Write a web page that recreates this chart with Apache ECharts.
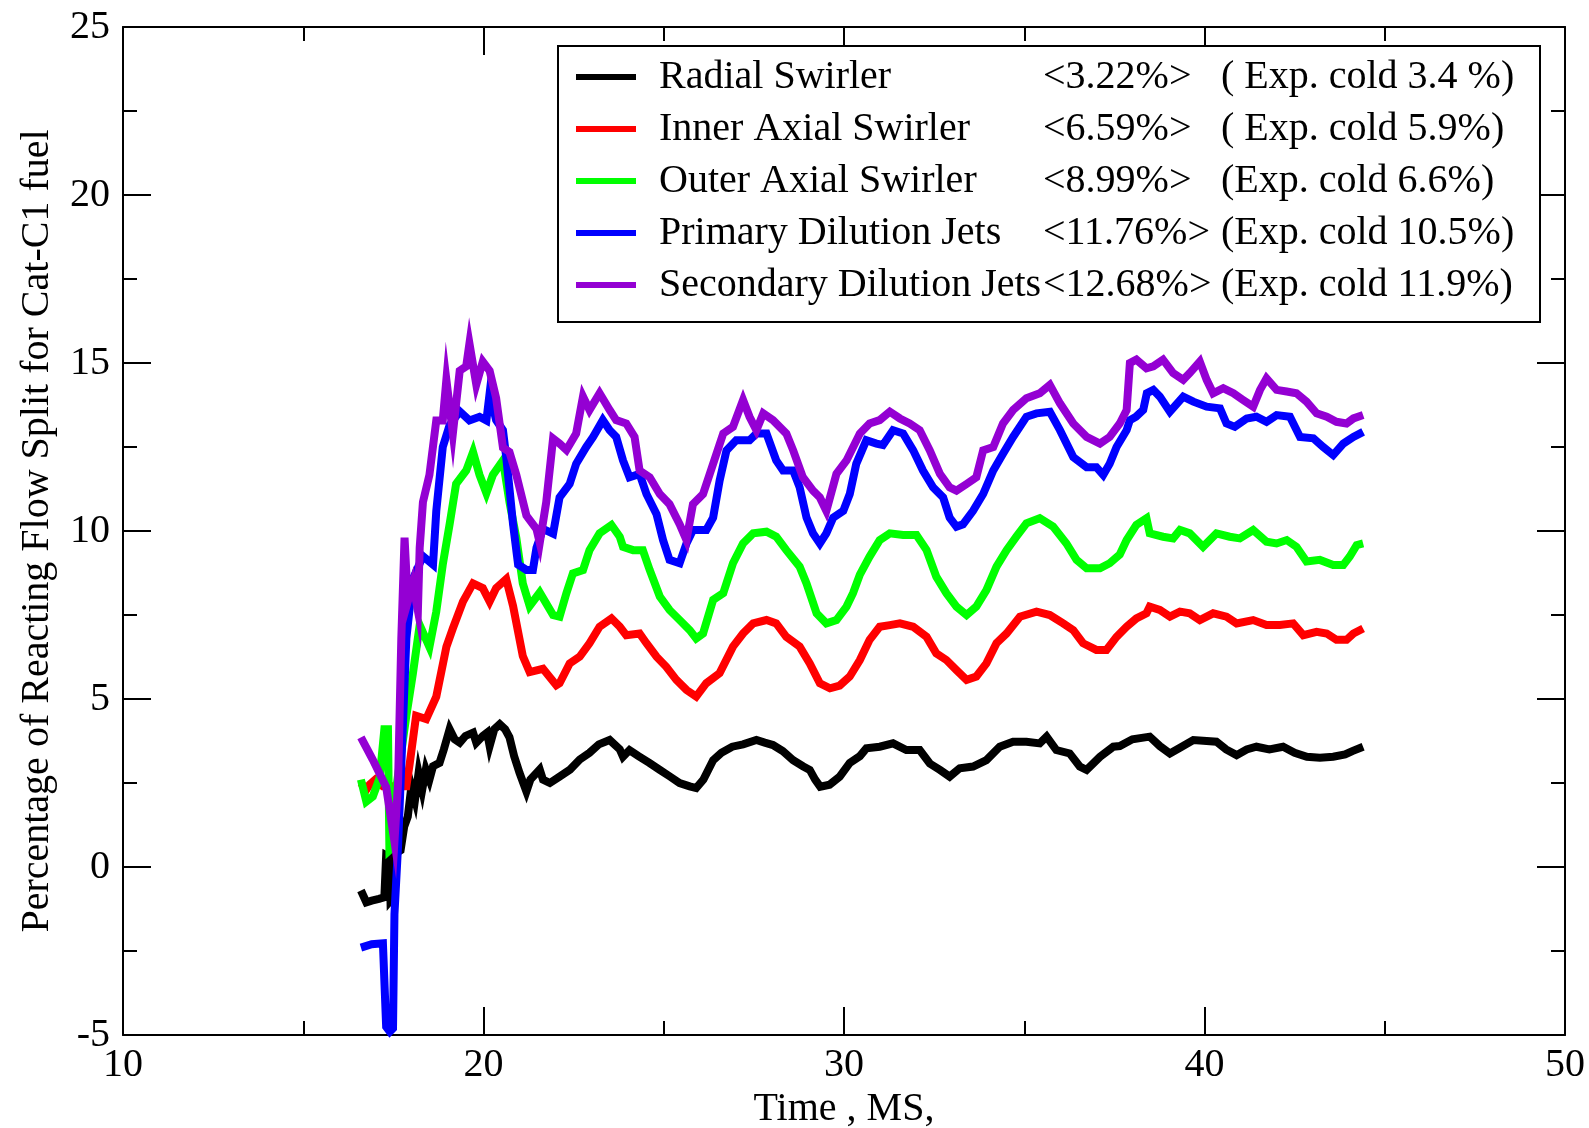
<!DOCTYPE html>
<html>
<head>
<meta charset="utf-8">
<script src="https://cdn.jsdelivr.net/npm/echarts@6/dist/echarts.min.js"></script>
<style>
html,body{margin:0;padding:0;background:#fff;}
#c{width:1589px;height:1128px;}
</style>
</head>
<body>
<div id="c"></div>
<script>
// ---------- data (time in ms, percentage) ----------
const seriesNames = ['Radial Swirler', 'Inner Axial Swirler', 'Outer Axial Swirler', 'Primary Dilution Jets', 'Secondary Dilution Jets'];
const meanLabels = ['<3.22%>', '<6.59%>', '<8.99%>', '<11.76%>', '<12.68%>'];
const expLabels = ['( Exp. cold 3.4 %)', '( Exp. cold 5.9%)', '(Exp. cold 6.6%)', '(Exp. cold 10.5%)', '(Exp. cold 11.9%)'];
const colors = ['#000000', '#ff0000', '#00ff00', '#0000ff', '#9400d3'];
const xTicks = [10, 20, 30, 40, 50];
const yTicks = [-5, 0, 5, 10, 15, 20, 25];

const radial = [[16.6,-0.7],[16.75,-1.05],[16.9,-1.0],[17.1,-0.95],[17.25,-0.9],[17.3,0.35],[17.39,0.3],[17.42,-1.0],[17.5,-0.9],[17.55,0.4],[17.7,0.5],[17.8,1.2],[17.9,1.5],[18.0,2.4],[18.1,2.0],[18.2,2.8],[18.3,2.3],[18.4,2.9],[18.5,2.6],[18.6,3.0],[18.78,3.1],[18.9,3.5],[19.06,4.1],[19.2,3.8],[19.34,3.7],[19.5,3.9],[19.71,4.0],[19.8,3.7],[19.98,3.9],[20.1,4.0],[20.17,3.6],[20.3,4.1],[20.45,4.25],[20.6,4.1],[20.72,3.86],[20.85,3.3],[21.0,2.8],[21.19,2.25],[21.3,2.6],[21.56,2.9],[21.65,2.6],[21.84,2.5],[22.11,2.69],[22.4,2.9],[22.67,3.2],[22.94,3.4],[23.2,3.65],[23.5,3.78],[23.78,3.5],[23.87,3.28],[24.05,3.48],[24.3,3.3],[24.6,3.1],[24.89,2.89],[25.16,2.7],[25.44,2.5],[25.72,2.4],[25.9,2.35],[26.1,2.6],[26.37,3.18],[26.6,3.4],[26.9,3.58],[27.2,3.65],[27.57,3.78],[27.8,3.7],[28.03,3.63],[28.3,3.45],[28.59,3.18],[28.86,3.0],[29.05,2.89],[29.2,2.6],[29.34,2.39],[29.6,2.45],[29.88,2.69],[30.16,3.1],[30.44,3.3],[30.62,3.53],[30.99,3.58],[31.36,3.68],[31.73,3.48],[32.1,3.48],[32.38,3.08],[32.66,2.89],[32.93,2.69],[33.21,2.94],[33.58,2.99],[33.95,3.18],[34.32,3.58],[34.69,3.73],[35.06,3.73],[35.43,3.68],[35.62,3.88],[35.89,3.48],[36.26,3.38],[36.54,2.99],[36.73,2.89],[37.1,3.28],[37.47,3.58],[37.65,3.6],[38.0,3.8],[38.48,3.88],[38.76,3.6],[39.04,3.38],[39.32,3.55],[39.69,3.78],[40.06,3.75],[40.33,3.73],[40.6,3.5],[40.89,3.33],[41.17,3.5],[41.44,3.58],[41.8,3.5],[42.18,3.58],[42.5,3.4],[42.84,3.28],[43.2,3.25],[43.57,3.28],[43.9,3.35],[44.1,3.45],[44.4,3.58]];

const innerAxial = [[16.6,2.5],[16.75,2.3],[16.84,2.45],[17.0,2.6],[17.21,2.4],[17.4,2.4],[17.6,2.4],[17.86,2.4],[17.95,3.05],[18.13,4.5],[18.41,4.4],[18.69,5.07],[18.97,6.55],[19.15,7.1],[19.43,7.9],[19.71,8.44],[19.98,8.3],[20.17,7.9],[20.35,8.3],[20.63,8.57],[20.82,7.77],[21.09,6.28],[21.28,5.8],[21.65,5.9],[22.02,5.41],[22.11,5.47],[22.39,6.06],[22.67,6.26],[22.94,6.66],[23.22,7.15],[23.55,7.4],[23.78,7.15],[23.96,6.9],[24.33,6.95],[24.52,6.66],[24.8,6.26],[25.07,5.96],[25.35,5.57],[25.63,5.27],[25.9,5.07],[26.18,5.47],[26.55,5.77],[26.92,6.56],[27.2,6.95],[27.48,7.25],[27.85,7.35],[28.12,7.25],[28.4,6.85],[28.77,6.56],[29.05,6.06],[29.33,5.47],[29.61,5.32],[29.88,5.4],[30.16,5.67],[30.44,6.16],[30.71,6.76],[30.99,7.15],[31.27,7.2],[31.55,7.25],[31.92,7.15],[32.29,6.85],[32.56,6.36],[32.84,6.16],[33.12,5.86],[33.4,5.57],[33.67,5.67],[33.95,6.06],[34.23,6.66],[34.51,6.95],[34.88,7.45],[35.34,7.6],[35.71,7.5],[36.08,7.25],[36.36,7.05],[36.63,6.66],[37.0,6.46],[37.28,6.46],[37.56,6.85],[37.84,7.15],[38.11,7.4],[38.39,7.55],[38.48,7.75],[38.76,7.65],[39.04,7.45],[39.32,7.6],[39.59,7.55],[39.87,7.35],[40.24,7.55],[40.61,7.45],[40.89,7.25],[41.35,7.35],[41.72,7.2],[42.09,7.2],[42.46,7.25],[42.74,6.9],[43.11,7.0],[43.39,6.95],[43.66,6.76],[43.94,6.76],[44.13,6.95],[44.4,7.1]];

const outerAxial = [[16.6,2.6],[16.75,1.95],[16.93,2.1],[17.12,2.65],[17.25,4.1],[17.35,4.1],[17.39,0.5],[17.49,0.6],[17.6,2.5],[17.86,4.5],[18.04,5.75],[18.23,7.2],[18.5,6.55],[18.69,7.6],[18.87,9.0],[19.06,10.2],[19.24,11.4],[19.52,11.8],[19.71,12.35],[19.89,11.67],[20.08,11.13],[20.26,11.67],[20.54,12.1],[20.72,10.86],[20.91,9.8],[21.09,8.44],[21.28,7.77],[21.56,8.17],[21.93,7.5],[22.11,7.45],[22.3,8.15],[22.48,8.74],[22.76,8.84],[22.94,9.43],[23.22,9.93],[23.55,10.18],[23.78,9.83],[23.87,9.53],[24.15,9.43],[24.42,9.43],[24.61,8.84],[24.89,8.05],[25.16,7.65],[25.44,7.35],[25.72,7.05],[25.9,6.8],[26.09,6.95],[26.37,7.95],[26.65,8.15],[26.92,9.04],[27.2,9.63],[27.48,9.93],[27.85,9.98],[28.12,9.83],[28.4,9.43],[28.77,8.94],[28.96,8.44],[29.24,7.55],[29.51,7.25],[29.79,7.35],[30.07,7.75],[30.25,8.15],[30.44,8.7],[30.71,9.24],[30.99,9.73],[31.27,9.93],[31.64,9.88],[32.01,9.88],[32.29,9.43],[32.56,8.64],[32.84,8.15],[33.12,7.75],[33.4,7.5],[33.67,7.75],[33.95,8.24],[34.23,8.94],[34.51,9.43],[34.78,9.83],[35.06,10.23],[35.43,10.38],[35.8,10.13],[36.17,9.63],[36.45,9.14],[36.73,8.89],[37.1,8.89],[37.37,9.04],[37.65,9.3],[37.84,9.73],[38.11,10.18],[38.39,10.38],[38.48,9.93],[38.85,9.83],[39.13,9.78],[39.32,10.03],[39.59,9.93],[39.96,9.53],[40.33,9.93],[40.7,9.83],[40.98,9.78],[41.35,10.03],[41.72,9.68],[42.0,9.63],[42.28,9.73],[42.55,9.53],[42.83,9.09],[43.2,9.14],[43.57,8.99],[43.85,8.99],[44.03,9.24],[44.22,9.58],[44.4,9.63]];

const primaryJets = [[16.6,-2.4],[16.9,-2.3],[17.21,-2.27],[17.3,-4.76],[17.4,-4.9],[17.49,-4.8],[17.53,-1.4],[17.63,0.63],[17.86,6.8],[18.04,8.57],[18.32,9.25],[18.6,9.0],[18.69,10.59],[18.87,12.5],[19.06,13.15],[19.34,13.56],[19.61,13.29],[19.89,13.4],[20.08,13.29],[20.17,14.1],[20.35,13.3],[20.54,13.0],[20.63,12.2],[20.72,11.27],[20.82,10.2],[20.96,9.0],[21.19,8.84],[21.37,8.84],[21.47,9.5],[21.65,10.06],[21.93,9.92],[22.11,11.0],[22.39,11.4],[22.57,12.0],[22.85,12.5],[23.04,12.8],[23.31,13.3],[23.5,13.0],[23.68,12.8],[23.87,12.1],[24.05,11.6],[24.33,11.7],[24.52,11.1],[24.8,10.5],[24.98,9.73],[25.16,9.14],[25.44,9.04],[25.63,9.63],[25.81,10.03],[26.18,10.03],[26.37,10.4],[26.55,11.5],[26.74,12.4],[27.01,12.7],[27.38,12.7],[27.57,12.9],[27.85,12.9],[28.12,12.1],[28.31,11.8],[28.59,11.8],[28.77,11.3],[28.96,10.4],[29.14,9.93],[29.33,9.63],[29.51,9.93],[29.7,10.4],[29.98,10.6],[30.16,11.1],[30.34,12.0],[30.62,12.7],[30.9,12.6],[31.08,12.56],[31.36,13.0],[31.64,12.9],[31.92,12.4],[32.19,11.8],[32.47,11.3],[32.75,11.0],[32.93,10.4],[33.12,10.13],[33.3,10.2],[33.58,10.6],[33.86,11.1],[34.14,11.8],[34.41,12.3],[34.69,12.8],[35.06,13.4],[35.34,13.5],[35.71,13.55],[35.99,13.0],[36.36,12.2],[36.73,11.9],[37.0,11.9],[37.19,11.67],[37.37,12.0],[37.56,12.5],[37.84,13.0],[37.93,13.3],[38.1,13.4],[38.3,13.6],[38.4,14.1],[38.58,14.2],[38.76,14.0],[39.04,13.55],[39.41,14.0],[39.69,13.85],[40.06,13.7],[40.43,13.65],[40.61,13.2],[40.84,13.1],[41.17,13.35],[41.44,13.4],[41.72,13.25],[42.0,13.45],[42.37,13.4],[42.65,12.8],[43.02,12.76],[43.29,12.5],[43.57,12.26],[43.85,12.6],[44.13,12.8],[44.4,12.95]];

const secondaryJets = [[16.6,3.86],[16.93,3.19],[17.3,2.38],[17.53,0.76],[17.63,2.5],[17.72,6.8],[17.81,9.8],[17.9,7.9],[18.04,8.44],[18.18,7.63],[18.23,9.5],[18.32,10.86],[18.5,11.67],[18.69,13.29],[18.87,13.29],[18.97,14.5],[19.15,12.9],[19.34,14.77],[19.52,14.9],[19.61,15.58],[19.8,14.36],[19.98,15.04],[20.17,14.77],[20.35,13.96],[20.54,12.48],[20.72,12.35],[20.91,11.67],[21.19,10.46],[21.47,10.06],[21.56,9.65],[21.74,10.86],[21.93,12.75],[22.11,12.6],[22.3,12.41],[22.57,12.9],[22.76,14.0],[22.94,13.6],[23.22,14.1],[23.5,13.6],[23.68,13.3],[23.96,13.2],[24.19,12.8],[24.33,11.8],[24.61,11.6],[24.89,11.1],[25.16,10.8],[25.44,10.2],[25.63,9.73],[25.81,10.8],[26.09,11.1],[26.37,12.0],[26.65,12.9],[26.92,13.1],[27.2,13.9],[27.38,13.4],[27.57,13.0],[27.76,13.5],[28.03,13.3],[28.4,12.9],[28.59,12.4],[28.86,11.6],[29.14,11.2],[29.33,11.0],[29.51,10.6],[29.79,11.7],[30.07,12.1],[30.44,12.9],[30.71,13.2],[30.99,13.3],[31.27,13.55],[31.55,13.35],[31.82,13.2],[32.1,13.0],[32.38,12.4],[32.66,11.7],[32.93,11.3],[33.12,11.2],[33.4,11.4],[33.67,11.6],[33.86,12.4],[34.14,12.5],[34.41,13.2],[34.69,13.6],[35.06,13.95],[35.43,14.1],[35.71,14.35],[35.99,13.8],[36.36,13.2],[36.73,12.8],[37.1,12.6],[37.37,12.8],[37.65,13.2],[37.84,13.6],[37.93,15.0],[38.11,15.1],[38.39,14.84],[38.58,14.9],[38.85,15.1],[39.13,14.7],[39.41,14.5],[39.59,14.7],[39.87,15.04],[40.06,14.5],[40.24,14.1],[40.52,14.25],[40.8,14.1],[41.07,13.9],[41.35,13.7],[41.54,14.2],[41.72,14.54],[42.0,14.2],[42.28,14.15],[42.55,14.1],[42.83,13.85],[43.11,13.5],[43.39,13.4],[43.66,13.25],[43.94,13.2],[44.13,13.35],[44.4,13.45]];

const allData = [radial, innerAxial, outerAxial, primaryJets, secondaryJets];

// ---------- chart ----------
const FONT = 'Liberation Serif';
const chart = echarts.init(document.getElementById('c'), null, {renderer: 'canvas'});

const axisLineStyle = {color: '#000', width: 2};
function makeX(pos, labels) {
  return {
    type: 'value', position: pos, min: xTicks[0], max: xTicks[xTicks.length - 1], interval: xTicks[1] - xTicks[0],
    axisLine: {show: true, onZero: false, lineStyle: axisLineStyle},
    axisTick: {show: true, inside: true, length: 28, lineStyle: axisLineStyle},
    minorTick: {show: true, splitNumber: 2, length: 14, lineStyle: axisLineStyle},
    splitLine: {show: false}, minorSplitLine: {show: false},
    axisLabel: {show: labels, fontFamily: FONT, fontSize: 40, color: '#000', margin: 10},
    name: labels ? 'Time , MS,' : '', nameLocation: 'middle', nameGap: 52,
    nameTextStyle: {fontFamily: FONT, fontSize: 40, color: '#000'}
  };
}
function makeY(pos, labels) {
  return {
    type: 'value', position: pos, min: yTicks[0], max: yTicks[yTicks.length - 1], interval: yTicks[1] - yTicks[0],
    axisLine: {show: true, onZero: false, lineStyle: axisLineStyle},
    axisTick: {show: true, inside: true, length: 28, lineStyle: axisLineStyle},
    minorTick: {show: true, splitNumber: 2, length: 14, lineStyle: axisLineStyle},
    splitLine: {show: false}, minorSplitLine: {show: false},
    axisLabel: {show: labels, fontFamily: FONT, fontSize: 40, color: '#000', margin: 13},
    name: labels ? 'Percentage of Reacting Flow Split for Cat-C1 fuel' : '', nameLocation: 'middle', nameGap: 66,
    nameTextStyle: {fontFamily: FONT, fontSize: 40, color: '#000'}
  };
}

const richBase = {fontFamily: FONT, fontSize: 40, color: '#000', lineHeight: 46};
const option = {
  animation: false,
  backgroundColor: '#fff',
  grid: {left: 123, right: 24, top: 27, bottom: 93, containLabel: false, outerBoundsMode: 'none'},
  xAxis: [makeX('bottom', true), makeX('top', false)],
  yAxis: [makeY('left', true), makeY('right', false)],
  legend: {
    show: true, orient: 'vertical', left: 558, top: 46,
    padding: [8, 19, 14, 18], itemGap: 6, itemWidth: 60, itemHeight: 6, icon: 'rect',
    borderColor: '#000', borderWidth: 2, backgroundColor: '#fff', borderRadius: 0,
    selectedMode: false,
    data: seriesNames,
    formatter: function (name) {
      const i = seriesNames.indexOf(name);
      return '{g| }{n|' + name + '}{v|' + meanLabels[i] + '}{e|' + expLabels[i] + '}';
    },
    textStyle: {
      fontFamily: FONT, fontSize: 40, color: '#000', lineHeight: 46,
      rich: {
        g: Object.assign({width: 18}, richBase),
        n: Object.assign({width: 384}, richBase),
        v: Object.assign({width: 178}, richBase),
        e: Object.assign({width: 300}, richBase)
      }
    }
  },
  series: allData.map((d, i) => ({
    name: seriesNames[i], type: 'line', data: d, xAxisIndex: 0, yAxisIndex: 0,
    showSymbol: false, symbol: 'none', smooth: false,
    lineStyle: {color: colors[i], width: 8, join: 'miter'},
    itemStyle: {color: colors[i]}, z: 2 + i
  }))
};
chart.setOption(option);
</script>
</body>
</html>
